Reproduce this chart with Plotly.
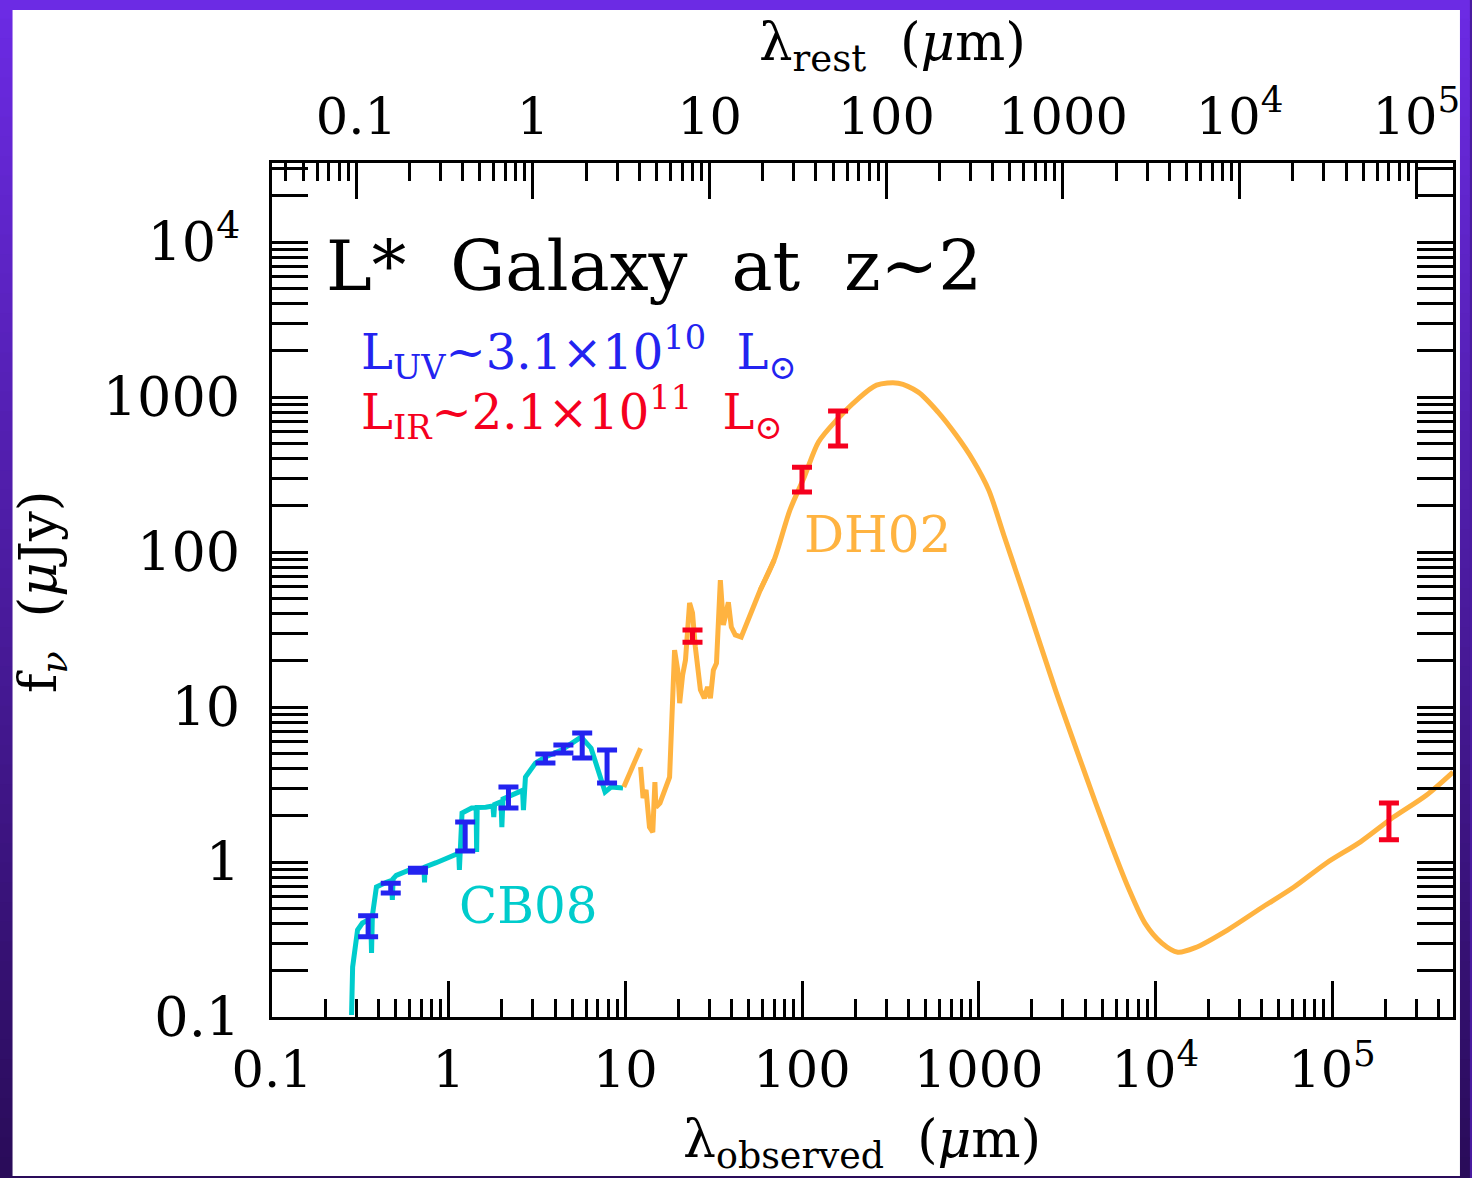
import numpy as np
import plotly.graph_objects as go

z = 2.0

# CB08 stellar population model (observed wavelength um, f_nu uJy)
cb08_wl = [0.282, 0.286, 0.305, 0.325, 0.362, 0.366, 0.370, 0.390, 0.444, 0.475, 0.48, 0.485,
           0.505, 0.60, 0.71, 0.725, 0.73, 0.735, 0.85, 1.0, 1.14, 1.15, 1.16, 1.19, 1.35,
           1.43, 1.44, 1.45, 1.62, 1.78, 1.80, 1.82, 1.98, 2.0, 2.03, 2.39, 2.62, 2.65, 2.68,
           2.72, 3.10, 3.53, 4.35, 5.20, 5.62, 6.40, 7.29, 7.68, 8.30, 9.70]
cb08_fnu = [0.103, 0.21, 0.364, 0.404, 0.43, 0.259, 0.45, 0.69, 0.74, 0.76, 0.57, 0.78,
            0.82, 0.89, 0.91, 0.91, 0.74, 0.93, 0.99, 1.08, 1.14, 0.89, 1.16, 2.07, 2.23,
            2.24, 1.16, 2.25, 2.26, 2.3, 1.95, 2.35, 2.45, 1.68, 2.55, 2.79, 2.9, 2.16, 3.0,
            3.53, 4.35, 4.76, 5.28, 6.13, 6.40, 5.43, 3.38, 2.83, 3.05, 3.0]

# DH02 dust model, mid-IR (PAH) part (observed wavelength um, f_nu uJy); None = gap
dh02_mir_wl = [9.8, 12.2, None,
               12.2, 12.6, 13.1, 13.7, 14.3, 14.7, 14.9, 15.7, 17.8, 18.5, 19.0, 19.8, 20.3,
               21.1, 21.9, 23.1, 24.0, 24.9, 26.6, 28.0, 29.2, 30.3, 31.5, 32.8, 34.5, 35.9,
               38.3, 39.8, 41.9, 45.3, 50.9, 58.0, 69.5]
dh02_mir_fnu = [3.05, 5.43, None,
                4.10, 2.59, 2.92, 1.68, 1.56, 3.28, 2.26, 2.40, 3.53, 11.1, 23.3, 17.3, 10.6,
                16.1, 20.1, 46.9, 40.4, 24.4, 12.9, 11.4, 13.5, 11.4, 17.3, 19.2, 65.9, 33.8,
                47.5, 32.8, 29.2, 28.3, 39.2, 56.9, 88.7]

# DH02 dust model, far-IR to radio part
dh02_fir_wl = [58.0, 69.5, 85.5, 103, 124, 157, 204, 264, 351, 455, 589, 745, 927, 1140,
               1387, 1845, 2718, 3757, 4571, 5692, 7000, 8730, 10890, 13400, 16700, 25600,
               39700, 61000, 93500, 145000, 223000, 342000, 484000]
dh02_fir_fnu = [56.9, 88.7, 187, 305, 513, 711, 957, 1194, 1230, 1076, 800, 569, 393, 251,
                129, 49, 12.9, 4.55, 2.44, 1.25, 0.69, 0.404, 0.30, 0.262, 0.279, 0.364,
                0.505, 0.69, 0.99, 1.35, 1.95, 2.70, 3.81]

# Optical / near-IR photometry (blue)
uv_wl = [0.35, 0.47, 0.67, 1.24, 2.18, 3.53, 4.46, 5.7, 7.88]
uv_f = [0.39, 0.68, 0.89, 1.47, 2.62, 4.63, 5.36, 5.69, 4.16]
uv_hi = [0.45, 0.73, 0.91, 1.81, 3.05, 4.98, 5.69, 6.79, 5.28]
uv_lo = [0.33, 0.63, 0.86, 1.18, 2.23, 4.35, 5.05, 4.69, 3.24]

# IR / radio photometry (red)
ir_wl = [24, 100, 160, 2.1e5]
ir_f = [28.7, 294, 631, 1.84]
ir_hi = [31.4, 353, 813, 2.40]
ir_lo = [26.2, 244, 483, 1.39]

x_ticks = [0.1, 1, 10, 100, 1000, 1e4, 1e5]
x_ticktext = ["0.1", "1", "10", "100", "1000", "10<sup>4</sup>", "10<sup>5</sup>"]
y_ticks = [0.1, 1, 10, 100, 1000, 1e4]
y_ticktext = ["0.1", "1", "10", "100", "1000", "10<sup>4</sup>"]

x_range_obs = [0.1, 4.84e5]
y_range = [0.1, 32400]

BLUE = "#2323f0"
RED = "#f5001e"
CYAN = "#00cccc"
ORANGE = "#ffb340"
FONT = "DejaVu Serif"

W, H = 1472, 1178
L, R, T, B = 272, 12, 163, 161
PW, PH = W - L - R, H - T - B


def px_x(p):
    return (p - L) / PW


def px_y(p):
    return (H - B - p) / PH


fig = go.Figure()

fig.add_trace(go.Scatter(x=cb08_wl, y=cb08_fnu, mode="lines",
                         line=dict(color=CYAN, width=5), hoverinfo="skip", showlegend=False))
fig.add_trace(go.Scatter(x=dh02_mir_wl, y=dh02_mir_fnu, mode="lines", connectgaps=False,
                         line=dict(color=ORANGE, width=5), hoverinfo="skip", showlegend=False))
fig.add_trace(go.Scatter(x=dh02_fir_wl, y=dh02_fir_fnu, mode="lines",
                         line=dict(color=ORANGE, width=5, shape="spline", smoothing=0.8),
                         hoverinfo="skip", showlegend=False))


def errtrace(xs, ys, hi, lo, color):
    return go.Scatter(
        x=xs, y=ys, mode="markers", marker=dict(size=0, color="rgba(0,0,0,0)"),
        error_y=dict(type="data", symmetric=False,
                     array=[h - v for h, v in zip(hi, ys)],
                     arrayminus=[v - l for l, v in zip(lo, ys)],
                     color=color, thickness=5, width=10),
        hoverinfo="skip", showlegend=False)


fig.add_trace(errtrace(uv_wl, uv_f, uv_hi, uv_lo, BLUE))
fig.add_trace(errtrace(ir_wl, ir_f, ir_hi, ir_lo, RED))

# dummy trace to activate the rest-frame axis
fig.add_trace(go.Scatter(x=[1], y=[1], xaxis="x2", mode="markers",
                         marker=dict(size=0, color="rgba(0,0,0,0)"),
                         hoverinfo="skip", showlegend=False))

minor_vals = [m * 10.0 ** e for e in range(-3, 7) for m in range(2, 10)]

axis_common = dict(
    type="log", showgrid=False, zeroline=False,
    showline=True, linecolor="black", linewidth=3,
    ticks="inside", ticklen=36, tickwidth=2.5, tickcolor="black",
    minor=dict(ticks="inside", ticklen=18, tickwidth=2.5, tickcolor="black",
               tickmode="array", tickvals=minor_vals, showgrid=False),
)

fig.update_layout(
    width=W, height=H,
    margin=dict(l=L, r=R, t=T, b=B, pad=0),
    paper_bgcolor="#4a1ba0",
    plot_bgcolor="white",
    xaxis=dict(**axis_common, range=[np.log10(x_range_obs[0]), np.log10(x_range_obs[1])],
               tickmode="array", tickvals=x_ticks, ticktext=x_ticktext, mirror=True,
               tickfont=dict(family=FONT, size=51, color="black"),
               ticklabelstandoff=6),
    xaxis2=dict(**axis_common, overlaying="x", side="top", anchor="y",
                range=[np.log10(x_range_obs[0] / (1 + z)), np.log10(x_range_obs[1] / (1 + z))],
                tickmode="array", tickvals=x_ticks, ticktext=x_ticktext,
                tickfont=dict(family=FONT, size=51, color="black"),
                ticklabelstandoff=6),
    yaxis=dict(**axis_common, range=[np.log10(y_range[0]), np.log10(y_range[1])],
               tickmode="array", tickvals=y_ticks, ticktext=y_ticktext, mirror="allticks",
               tickfont=dict(family=FONT, size=54, color="black"),
               ticklabelstandoff=18),
)

# background gradient frame + white panel
top_c = np.array([108, 43, 228])
bot_c = np.array([42, 12, 90])
n = 60
shapes = []
for i in range(n):
    c = top_c + (bot_c - top_c) * i / (n - 1)
    y0 = px_y(i * H / n - 1)
    y1 = px_y((i + 1) * H / n + 1)
    shapes.append(dict(type="rect", xref="paper", yref="paper", x0=px_x(-5), x1=px_x(W + 5),
                       y0=y1, y1=y0, line=dict(width=0), layer="below",
                       fillcolor="rgb(%d,%d,%d)" % tuple(c.astype(int))))
shapes.append(dict(type="rect", xref="paper", yref="paper", x0=px_x(11), x1=px_x(1467),
                   y0=px_y(1176), y1=px_y(10), line=dict(width=0), fillcolor="white",
                   layer="below"))
fig.update_layout(shapes=shapes)

ann = []
ann.append(dict(text="L*  Galaxy  at  z~2", x=px_x(324), y=px_y(266), xref="paper", yref="paper",
                xanchor="left", yanchor="middle", showarrow=False,
                font=dict(family=FONT, size=69, color="black")))
ann.append(dict(text="L<sub>UV</sub>~3.1×10<sup>10</sup>  L<sub>⊙</sub>", x=px_x(360), y=px_y(352),
                xref="paper", yref="paper", xanchor="left", yanchor="middle", showarrow=False,
                font=dict(family=FONT, size=48, color=BLUE)))
ann.append(dict(text="L<sub>IR</sub>~2.1×10<sup>11</sup>  L<sub>⊙</sub>", x=px_x(360), y=px_y(412),
                xref="paper", yref="paper", xanchor="left", yanchor="middle", showarrow=False,
                font=dict(family=FONT, size=48, color=RED)))
ann.append(dict(text="DH02", x=px_x(805), y=px_y(535), xref="paper", yref="paper",
                xanchor="left", yanchor="middle", showarrow=False,
                font=dict(family=FONT, size=50, color=ORANGE)))
ann.append(dict(text="CB08", x=px_x(458), y=px_y(906), xref="paper", yref="paper",
                xanchor="left", yanchor="middle", showarrow=False,
                font=dict(family=FONT, size=50, color=CYAN)))
ann.append(dict(text="λ<sub>rest</sub>  (<i>μ</i>m)", x=px_x(896), y=px_y(45), xref="paper",
                yref="paper", xanchor="center", yanchor="middle", showarrow=False,
                font=dict(family=FONT, size=53, color="black")))
ann.append(dict(text="λ<sub>observed</sub>  (<i>μ</i>m)", x=px_x(865), y=px_y(1143), xref="paper",
                yref="paper", xanchor="center", yanchor="middle", showarrow=False,
                font=dict(family=FONT, size=52, color="black")))
ann.append(dict(text="f<sub><i>ν</i></sub>  (<i>μ</i>Jy)", x=px_x(40), y=px_y(592), xref="paper",
                yref="paper", xanchor="center", yanchor="middle", showarrow=False, textangle=-90,
                font=dict(family=FONT, size=53, color="black")))
fig.update_layout(annotations=ann)

fig.write_html("out.html", config={"displayModeBar": False},
               post_script="document.body.style.margin='0';")
